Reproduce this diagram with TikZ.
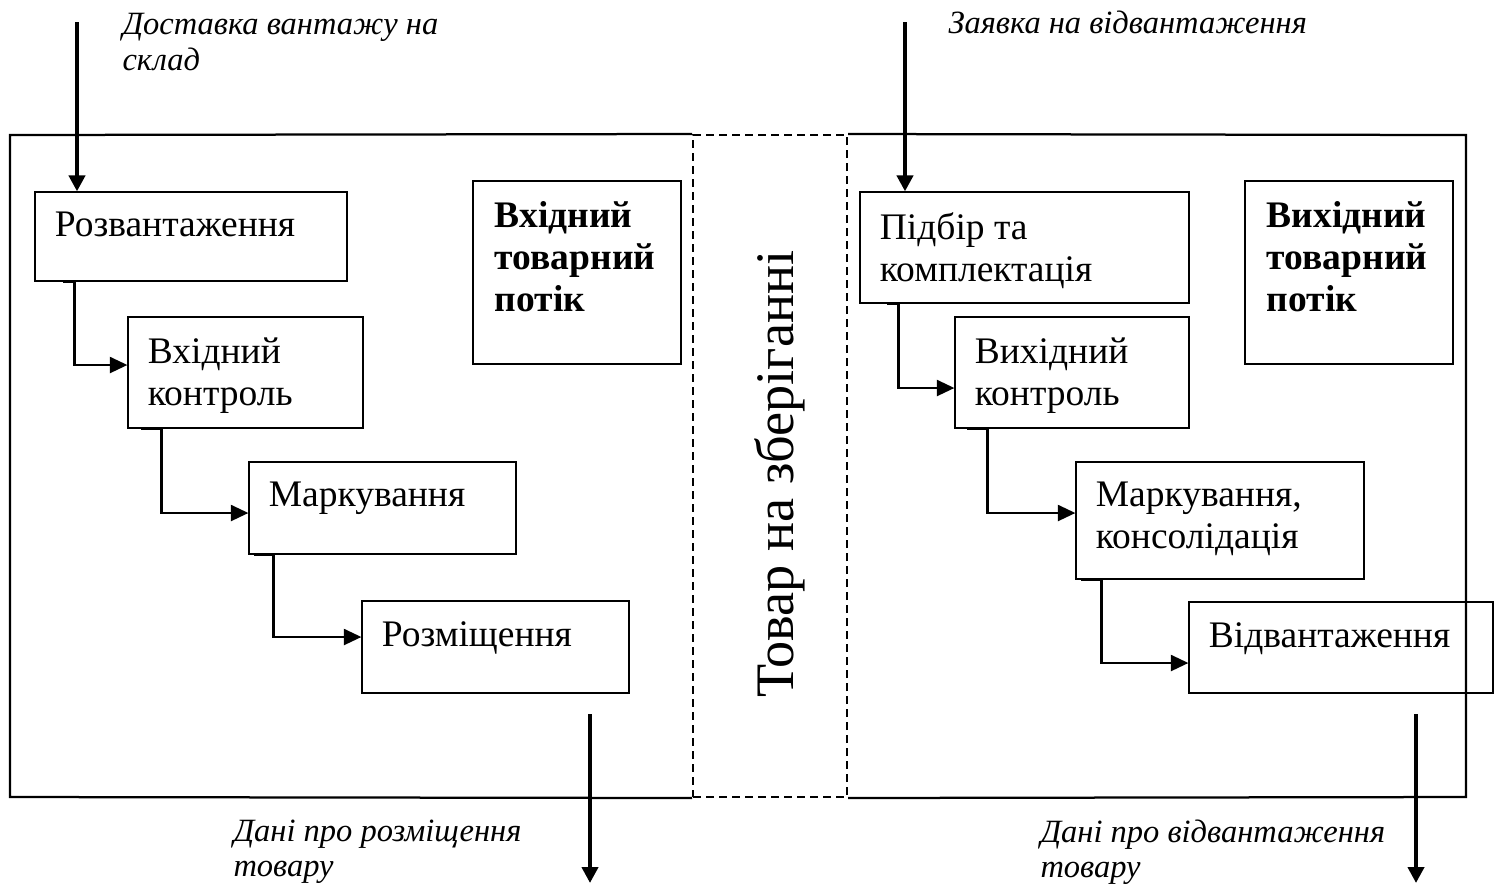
\documentclass[tikz,border=0pt]{standalone}
\usepackage{fontspec}
\setmainfont{Liberation Serif}
\usetikzlibrary{calc}
\usetikzlibrary{fit}
\usetikzlibrary{arrows.meta}

\begin{document}
\begin{tikzpicture}[
		x=0.4pt, y=-0.4pt,
		stepbox/.style={
			draw=black,
			line width=0.5pt,
			rectangle,
			inner sep=0pt},
		steptext/.style={
			anchor=north west,
			inner sep=0pt,
			xshift=8pt,
			yshift=-8.2pt,
			align=left,
			font=\fontsize{15}{16.8}\selectfont},
		flowtext/.style={
			anchor=north west,
			inner sep=0pt,
			align=left,
			font=\fontsize{13}{14.4}\selectfont\itshape},
		storebox/.style={
			draw=black,
			line width=0.8pt,
			dash pattern=on 3.2pt off 2pt,
			rectangle,
			inner sep=0pt},
		frame/.style={line width=0.9pt},
		link/.style={line width=0.9pt, -{Triangle[length=7pt,width=6.4pt]}},
		bigarrow/.style={line width=1.6pt, -{Triangle[length=6.4pt,width=6.4pt]}},
		]
		\useasboundingbox (0,0) rectangle (1499,883);

		%Storage
		\node (store)[storebox, fit={(693,135) (847,797)}] {};
		\node (storetxt)[rotate=90, font=\fontsize{21.7}{26}\selectfont] at (780,474) {Товар на зберіганні};
		\draw[frame] (store.north west) -- (10,135) -- (10,797) -- (store.south west);
		\draw[frame] (store.north east) -- (1466,135) -- (1466,797) -- (store.south east);

		%Inbound
		\node (unload)[stepbox, fit={(35,192) (347,281)}] {};
		\node (unloadtxt)[steptext] at (unload.north west) {Розвантаження};
		\node (check)[stepbox, fit={(128,317) (363,428)}] {};
		\node (checktxt)[steptext] at (check.north west) {Вхідний\\контроль};
		\node (mark)[stepbox, fit={(249,462) (516,554)}] {};
		\node (marktxt)[steptext] at (mark.north west) {Маркування};
		\node (place)[stepbox, fit={(362,601) (629,693)}] {};
		\node (placetxt)[steptext] at (place.north west) {Розміщення};
		\node (inflow)[stepbox, fit={(473,181) (681,364)}] {};
		\node (inflowtxt)[steptext, xshift=0.8pt, font=\fontsize{15}{16.8}\selectfont\bfseries] at (inflow.north west) {Вхідний\\товарний\\потік};

		%Outbound
		\node (pick)[stepbox, fit={(860,192) (1189,303)}] {};
		\node (picktxt)[steptext] at (pick.north west) {Підбір та\\комплектація};
		\node (outcheck)[stepbox, fit={(955,317) (1189,428)}] {};
		\node (outchecktxt)[steptext] at (outcheck.north west) {Вихідний\\контроль};
		\node (consol)[stepbox, fit={(1076,462) (1364,579)}] {};
		\node (consoltxt)[steptext] at (consol.north west) {Маркування,\\консолідація};
		\node (ship)[stepbox, fit={(1189,602) (1493,693)}] {};
		\node (shiptxt)[steptext] at (ship.north west) {Відвантаження};
		\node (outflow)[stepbox, fit={(1245,181) (1453,364)}] {};
		\node (outflowtxt)[steptext, xshift=0.8pt, font=\fontsize{15}{16.8}\selectfont\bfseries] at (outflow.north west) {Вихідний\\товарний\\потік};

		%Links between steps
		\foreach \from/\to/\a/\b/\dy in {unload/check/29/11/-7.5, check/mark/14/20/5, mark/place/6/19/-10,
			pick/outcheck/28/11/15.5, outcheck/consol/13/20/-7.5, consol/ship/6/20/15.5}{
			\draw[link] ($(\from.south west)+(\a,0)$) -- ++(\b,0) |- ($(\to.west)+(0,\dy)$);
		}

		%Incoming flows
		\coordinate (deliv) at (77,22);
		\draw[bigarrow] (deliv) -- (deliv |- unload.north);
		\node (delivtxt)[flowtext] at (122,13) {Доставка вантажу на\\склад};
		\coordinate (order) at (905,22);
		\draw[bigarrow] (order) -- (order |- pick.north);
		\node (ordertxt)[flowtext] at (948,10) {Заявка на відвантаження};

		%Outgoing data
		\coordinate (placedata) at (590,714);
		\coordinate (placedataend) at (590,883);
		\draw[bigarrow] (placedata) -- (placedataend);
		\node (placedatatxt)[flowtext, font=\fontsize{13}{14}\selectfont\itshape] at (233,819) {Дані про розміщення\\товару};
		\coordinate (shipdata) at (1416,714);
		\coordinate (shipdataend) at (1416,883);
		\draw[bigarrow] (shipdata) -- (shipdataend);
		\node (shipdatatxt)[flowtext, font=\fontsize{13}{14}\selectfont\itshape] at (1040,819) {Дані про відвантаження\\товару};

	\end{tikzpicture}
\end{document}
